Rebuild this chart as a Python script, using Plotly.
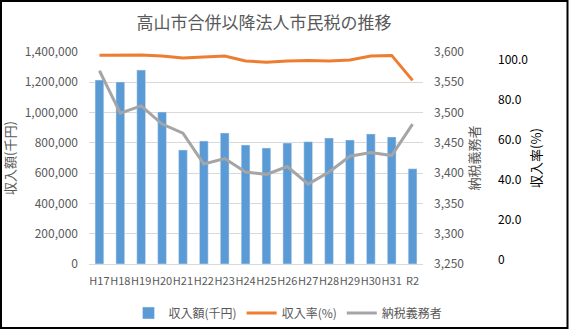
import plotly.graph_objects as go

# 年度
years = ["H17", "H18", "H19", "H20", "H21", "H22", "H23", "H24",
         "H25", "H26", "H27", "H28", "H29", "H30", "H31", "R2"]

# 収入額（千円）
revenue = [1215000, 1202000, 1281000, 1004000, 753000, 812000, 865000, 786000,
           766000, 799000, 808000, 832000, 819000, 859000, 839000, 629000]

# 収入率（%）
rate = [102.4, 102.5, 102.5, 102.0, 101.0, 101.5, 102.0, 99.5,
        98.9, 99.5, 99.7, 99.5, 100.0, 102.0, 102.3, 89.8]

# 納税義務者（人）
taxpayers = [3569, 3499, 3511, 3481, 3466, 3415, 3424, 3402,
             3398, 3411, 3382, 3402, 3428, 3434, 3429, 3481]

rate_ticks = [0, 20, 40, 60, 80, 100]
rate_ticktext = ["0", "20.0", "40.0", "60.0", "80.0", "100.0"]

W, H = 569, 330
L, R, T, B = 89, 10, 52, 66
PW, PH = W - L - R, H - T - B

FONT = "Noto Sans CJK JP"
GREY = "#595959"

fig = go.Figure()

fig.add_trace(go.Bar(
    x=years, y=revenue, name="収入額(千円)",
    marker=dict(color="#5b9bd5"), yaxis="y",
))
fig.add_trace(go.Scatter(
    x=years, y=rate, name="収入率(%)", mode="lines",
    line=dict(color="#ed7d31", width=3), yaxis="y3",
))
fig.add_trace(go.Scatter(
    x=years, y=taxpayers, name="納税義務者", mode="lines",
    line=dict(color="#a5a5a5", width=3), yaxis="y2",
))

def px_x(px):
    return (px - L) / PW

def px_y(py):
    return (H - B - py) / PH

fig.update_layout(
    width=W, height=H,
    margin=dict(l=L, r=R, t=T, b=B, autoexpand=False),
    paper_bgcolor="white", plot_bgcolor="white",
    font=dict(family=FONT, size=12, color=GREY),
    bargap=0.58,
    showlegend=True,
    title=dict(
        text="高山市合併以降法人市民税の推移",
        x=264 / W, xanchor="center", y=1 - 23 / H, yanchor="middle",
        font=dict(family=FONT, size=17, color=GREY),
    ),
    xaxis=dict(
        domain=[0, px_x(423)], automargin=False,
        showgrid=False, showline=True, linecolor="#d9d9d9", linewidth=1,
        ticks="", tickangle=0, ticklabelstandoff=7,
        tickfont=dict(size=11, color=GREY),
        range=[-0.5, len(years) - 0.5],
    ),
    yaxis=dict(
        range=[0, 1400000], dtick=200000, tickformat=",", automargin=False,
        showgrid=True, gridcolor="#d9d9d9", gridwidth=1,
        zeroline=False, showline=False, ticks="",
        ticklabelstandoff=10,
        tickfont=dict(size=12, color=GREY),
        title=dict(text="収入額(千円)", font=dict(size=13, color=GREY), standoff=8),
    ),
    yaxis2=dict(
        overlaying="y", side="right", anchor="x", automargin=False,
        range=[3250, 3600], dtick=50, tickformat=",",
        showgrid=False, zeroline=False, showline=False, ticks="",
        ticklabelstandoff=10,
        tickfont=dict(size=12, color=GREY),
        title=dict(text="納税義務者", font=dict(size=13, color=GREY), standoff=6),
    ),
    yaxis3=dict(
        overlaying="y", side="right", anchor="free", position=px_x(494),
        automargin=False,
        range=[-2, 104], tickvals=rate_ticks, ticktext=rate_ticktext,
        showgrid=False, zeroline=False, showline=False, ticks="",
        ticklabelstandoff=3,
        tickfont=dict(size=12, color="black"),
        title=dict(text="収入率(%)", font=dict(size=13, color="black"), standoff=4),
    ),
    legend=dict(
        orientation="h", x=px_x(288), xanchor="center",
        y=px_y(313), yanchor="middle",
        font=dict(size=12, color=GREY), itemwidth=30,
        bgcolor="rgba(0,0,0,0)",
    ),
    shapes=[dict(
        type="rect", xref="paper", yref="paper",
        x0=px_x(1), x1=px_x(567.5), y0=px_y(328), y1=px_y(1),
        line=dict(color="black", width=2), fillcolor="rgba(0,0,0,0)",
        layer="above",
    )],
)

fig.write_html("out.html")
